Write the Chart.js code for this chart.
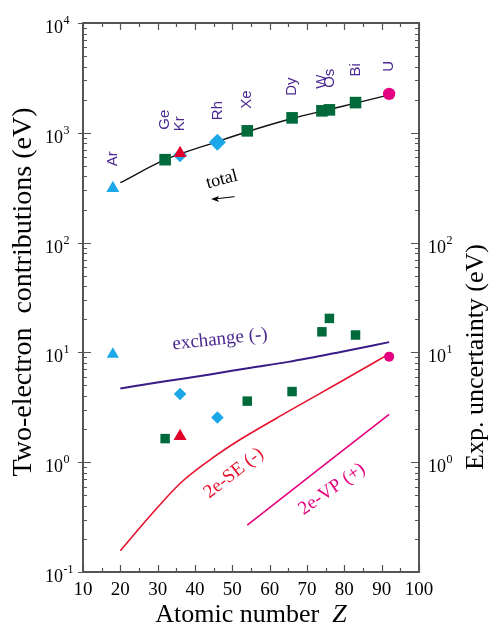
<!DOCTYPE html>
<html>
<head>
<meta charset="utf-8">
<script src="https://cdn.jsdelivr.net/npm/chart.js@4.4.0/dist/chart.umd.min.js"></script>
<style>
  html, body { margin: 0; padding: 0; background: #fff; }
  canvas { display: block; }
</style>
</head>
<body>
<canvas id="twoElectronChart" width="490" height="627"></canvas>
<script>
// element labels over the total points
const elements = ['Ar', 'Ge', 'Kr', 'Rh', 'Xe', 'Dy', 'W', 'Os', 'Bi', 'U'];
const elementZ = [18, 32, 36, 46, 54, 66, 74, 76, 83, 92];

// measured points: total contribution (eV) and exp. uncertainty (eV)
const triCyanZ = [18];
const triCyanTotal = [312];
const triCyanUnc = [9.6];

const diaCyanZ = [36, 46];
const diaCyanTotal = [625, 822];
const diaCyanUnc = [4.18, 2.55];

const triRedZ = [36];
const triRedTotal = [650];
const triRedUnc = [1.72];

const sqGreenZ = [32, 54, 66, 74, 76, 83];
const sqGreenTotal = [569, 1042, 1368, 1585, 1618, 1884];
const sqGreenUnc = [1.64, 3.6, 4.4, 15.4, 20.4, 14.4];

const circZ = [92];
const circTotal = [2264];
const circUnc = [9.15];

// theory curves
const totalCurveZ = [20, 32, 46, 54, 66, 75, 83, 92];
const totalCurveE = [351, 569, 832, 1023, 1349, 1603, 1862, 2213];

const exchangeZ = [20, 32, 44, 55, 65, 79, 92];
const exchangeE = [4.7, 5.45, 6.3, 7.25, 8.2, 10.1, 12.4];

const seZ = [20, 28, 36, 44, 52, 65, 79, 92];
const seE = [0.156, 0.325, 0.64, 1.05, 1.6, 2.9, 5.4, 9.7];

const vpZ = [54, 92];
const vpE = [0.267, 2.73];

// axis ticks
const xTicks = [10, 20, 30, 40, 50, 60, 70, 80, 90, 100];
const yLeftExp = [-1, 0, 1, 2, 3, 4];
const yRightExp = [0, 1, 2];

const CYAN = '#1ba7e8';
const GREEN = '#006a3a';
const RED = '#e3002b';
const MAGENTA = '#e4007f';
const PURPLE = '#4a2890';
const SERIF = '"Liberation Serif", "Times New Roman", serif';
const SANS = '"Liberation Sans", Arial, sans-serif';

const pts = (xs, ys) => xs.map((x, i) => ({ x: x, y: ys[i] }));

function markers(xs, ys, style, color, r, order) {
  return {
    data: pts(xs, ys),
    pointStyle: style,
    pointRadius: r,
    pointBackgroundColor: color,
    pointBorderWidth: 0,
    showLine: false,
    order: order
  };
}

function curve(xs, ys, color, w) {
  return {
    data: pts(xs, ys),
    showLine: true,
    borderColor: color,
    borderWidth: w,
    pointRadius: 0,
    cubicInterpolationMode: 'monotone',
    order: 10
  };
}

// total of the element at Z (highest marker there)
function totalAt(z) {
  let best = 0;
  [[triCyanZ, triCyanTotal], [diaCyanZ, diaCyanTotal], [triRedZ, triRedTotal],
   [sqGreenZ, sqGreenTotal], [circZ, circTotal]].forEach(([zs, es]) => {
    zs.forEach((zz, i) => { if (zz === z && es[i] > best) best = es[i]; });
  });
  return best;
}

function drawPow(ctx, x, y, exp, alignRight) {
  ctx.font = '18px ' + SERIF;
  const wb = ctx.measureText('10').width;
  const bx = alignRight ? x - wb : x;
  ctx.textAlign = 'left';
  ctx.textBaseline = 'alphabetic';
  ctx.fillText('10', bx, y + 10);
  ctx.font = '12px ' + SERIF;
  ctx.fillText(exp < 0 ? '-' + (-exp) : String(exp), bx + wb + 0.5, y + 1);
}

const decorations = {
  id: 'decorations',
  afterDatasetsDraw(chart) {
    const ctx = chart.ctx;
    const xs = chart.scales.x, ys = chart.scales.y;
    ctx.save();

    // element names
    const extra = { Ge: 8, Bi: 4 };
    ctx.fillStyle = PURPLE;
    ctx.font = '15px ' + SANS;
    elements.forEach((name, i) => {
      const px = xs.getPixelForValue(elementZ[i]);
      const py = ys.getPixelForValue(totalAt(elementZ[i])) - 22 - (extra[name] || 0);
      ctx.save();
      ctx.translate(px, py);
      ctx.rotate(-Math.PI / 2);
      ctx.textAlign = 'left';
      ctx.textBaseline = 'middle';
      ctx.fillText(name, 0, 0);
      ctx.restore();
    });

    function rotText(text, z, e, deg, color, font) {
      ctx.save();
      ctx.translate(xs.getPixelForValue(z), ys.getPixelForValue(e));
      ctx.rotate(deg * Math.PI / 180);
      ctx.fillStyle = color;
      ctx.font = font;
      ctx.textAlign = 'center';
      ctx.textBaseline = 'middle';
      ctx.fillText(text, 0, 0);
      ctx.restore();
    }
    rotText('total', 47.2, 374, -15, '#000', '18px ' + SERIF);
    rotText('exchange (-)', 46.7, 13.1, -6, PURPLE, '19px ' + SERIF);
    rotText('2e-SE (-)', 50.4, 0.794, -38, '#e8112d', '19px ' + SERIF);
    rotText('2e-VP (+)', 76.7, 0.568, -35, '#e5007e', '19px ' + SERIF);

    // arrow under "total"
    const ax0 = xs.getPixelForValue(50.6), ay0 = ys.getPixelForValue(262);
    const ax1 = xs.getPixelForValue(44.3), ay1 = ys.getPixelForValue(250);
    ctx.strokeStyle = '#000';
    ctx.lineWidth = 1;
    ctx.beginPath();
    ctx.moveTo(ax0, ay0);
    ctx.lineTo(ax1 + 4, ay1);
    ctx.stroke();
    ctx.fillStyle = '#000';
    ctx.beginPath();
    ctx.moveTo(ax1, ay1);
    ctx.lineTo(ax1 + 8, ay1 - 3);
    ctx.lineTo(ax1 + 6, ay1);
    ctx.lineTo(ax1 + 8, ay1 + 3);
    ctx.closePath();
    ctx.fill();
    ctx.restore();
  },
  afterDraw(chart) {
    const ctx = chart.ctx;
    const a = chart.chartArea;
    const xs = chart.scales.x, ys = chart.scales.y;
    ctx.save();
    ctx.strokeStyle = '#555';
    ctx.lineWidth = 2;
    ctx.strokeRect(a.left, a.top, a.right - a.left, a.bottom - a.top);

    ctx.lineWidth = 1.2;
    ctx.beginPath();
    // x ticks, top and bottom, inward
    for (let v = 10; v <= 100; v += 5) {
      const px = Math.round(xs.getPixelForValue(v)) + 0.5;
      const len = v % 10 === 0 ? 7 : 4;
      ctx.moveTo(px, a.bottom); ctx.lineTo(px, a.bottom - len);
      ctx.moveTo(px, a.top); ctx.lineTo(px, a.top + len);
    }
    // y ticks, left and right
    for (let d = -1; d <= 4; d++) {
      const py = Math.round(ys.getPixelForValue(Math.pow(10, d))) + 0.5;
      ctx.moveTo(a.left - 5, py); ctx.lineTo(a.left + 8, py);
      ctx.moveTo(a.right - 8, py); ctx.lineTo(a.right, py);
      if (d === 4) break;
      for (let m = 2; m <= 9; m++) {
        const q = Math.round(ys.getPixelForValue(m * Math.pow(10, d))) + 0.5;
        ctx.moveTo(a.left, q); ctx.lineTo(a.left + 4, q);
        ctx.moveTo(a.right - 4, q); ctx.lineTo(a.right, q);
      }
    }
    ctx.stroke();

    // tick labels
    ctx.fillStyle = '#000';
    ctx.font = '19px ' + SERIF;
    ctx.textAlign = 'center';
    ctx.textBaseline = 'alphabetic';
    xTicks.forEach(v => ctx.fillText(String(v), xs.getPixelForValue(v), a.bottom + 23));
    yLeftExp.forEach(e => drawPow(ctx, a.left - 20, ys.getPixelForValue(Math.pow(10, e)), e, true));
    yRightExp.forEach(e => drawPow(ctx, a.right + 9, ys.getPixelForValue(Math.pow(10, e)), e, false));

    // axis titles
    ctx.textAlign = 'center';
    ctx.textBaseline = 'middle';
    ctx.font = '28px ' + SERIF;
    ctx.save();
    ctx.translate(24, 292);
    ctx.rotate(-Math.PI / 2);
    ctx.fillText('Two-electron  contributions (eV)', 0, 0);
    ctx.restore();
    ctx.font = '26px ' + SERIF;
    ctx.save();
    ctx.translate(476, 357);
    ctx.rotate(-Math.PI / 2);
    ctx.fillText('Exp. uncertainty (eV)', 0, 0);
    ctx.restore();

    ctx.textBaseline = 'alphabetic';
    const t1 = 'Atomic number  ';
    ctx.font = 'italic 26px ' + SERIF;
    const wz = ctx.measureText('Z').width;
    ctx.font = '26px ' + SERIF;
    const w1 = ctx.measureText(t1).width;
    const cx = (a.left + a.right) / 2;
    const sx = cx - (w1 + wz) / 2;
    ctx.textAlign = 'left';
    ctx.fillText(t1, sx, 622);
    ctx.font = 'italic 26px ' + SERIF;
    ctx.fillText('Z', sx + w1, 622);
    ctx.restore();
  }
};

new Chart(document.getElementById('twoElectronChart'), {
  type: 'scatter',
  data: {
    datasets: [
      markers(triRedZ, triRedTotal, 'triangle', RED, 7.5, 0),
      markers(triRedZ, triRedUnc, 'triangle', RED, 7.5, 0),
      markers(diaCyanZ.slice(0, 1), diaCyanTotal.slice(0, 1), 'rectRot', CYAN, 7, 1),
      markers(diaCyanZ.slice(1), diaCyanTotal.slice(1), 'rectRot', CYAN, 8.5, 1),
      markers(diaCyanZ, diaCyanUnc, 'rectRot', CYAN, 6.3, 1),
      markers(triCyanZ, triCyanTotal, 'triangle', CYAN, 7.5, 1),
      markers(triCyanZ, triCyanUnc, 'triangle', CYAN, 7, 1),
      markers(sqGreenZ, sqGreenTotal, 'rect', GREEN, 8.2, 1),
      markers(sqGreenZ, sqGreenUnc, 'rect', GREEN, 6.7, 1),
      markers(circZ, circTotal, 'circle', MAGENTA, 6.2, 1),
      markers(circZ, circUnc, 'circle', MAGENTA, 5, 1),
      curve(totalCurveZ, totalCurveE, '#111', 1.4),
      curve(exchangeZ, exchangeE, '#3a1c86', 2),
      curve(seZ, seE, '#e8112d', 1.6),
      curve(vpZ, vpE, '#e5007e', 1.6)
    ]
  },
  options: {
    responsive: false,
    animation: false,
    devicePixelRatio: 1,
    layout: { padding: { left: 83, right: 71, top: 23, bottom: 55 } },
    plugins: { legend: { display: false }, tooltip: { enabled: false } },
    scales: {
      x: { type: 'linear', min: 10, max: 100, display: false },
      y: { type: 'logarithmic', min: 0.1, max: 10000, display: false }
    }
  },
  plugins: [decorations]
});
</script>
</body>
</html>
